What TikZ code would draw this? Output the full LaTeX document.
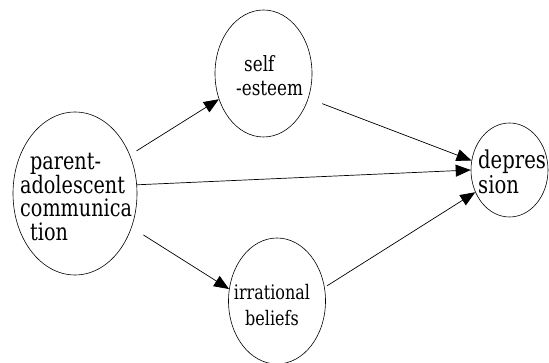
\documentclass[tikz,border=0pt]{standalone}
\usepackage{fontspec}
\setmainfont{DejaVu Serif}[FakeStretch=0.8]
\usetikzlibrary{shapes.geometric,arrows.meta}
\begin{document}
\begin{tikzpicture}[x=1pt,y=-1pt,line cap=round,line join=round,
	blob/.style={draw,ellipse,line width=0.6pt,inner sep=0pt},
	txt/.style={inner sep=0pt,align=left},
	arr/.style={line width=0.7pt,-{Triangle[length=15pt,width=12pt]}}]
	\useasboundingbox (0,0) rectangle (549,363);
	% the four ellipses
	\node[blob,minimum width=124pt,minimum height=163pt] (par) at (75,193.5) {};
	\node[blob,minimum width=97pt,minimum height=127pt] (self) at (263.5,73.5) {};
	\node[blob,minimum width=97pt,minimum height=126pt] (irr) at (277,301) {};
	\node[blob,minimum width=77pt,minimum height=94pt] (dep) at (509.5,170) {};
	% their texts
	\node[txt,anchor=west,font=\fontsize{24}{23.5}\selectfont] (partxt) at (20,197) {\hspace*{10pt}parent-\\adolescent\\communica\\\hspace*{10pt}tion};
	\node[txt,anchor=west,font=\fontsize{21}{24}\selectfont] (selftxt) at (236,76) {\hspace*{8pt}self\\-esteem};
	\node[txt,align=center,font=\fontsize{20}{26}\selectfont] (irrtxt) at (272,305) {irrational\\beliefs};
	\node[txt,anchor=west,font=\fontsize{24.5}{25}\selectfont] (deptxt) at (478,172) {depres\\sion};
	% paths
	\draw[arr,shorten <=8pt] (par.35) -- (self.210);
	\draw[arr] (par.8) -- (dep.180);
	\draw[arr,shorten <=14pt] (par.-31) -- (irr.166);
	\draw[arr,shorten <=15pt] (self.-29) -- (dep.166);
	\draw[arr,shorten <=3pt] (irr.16) -- (dep.213);
\end{tikzpicture}
\end{document}
